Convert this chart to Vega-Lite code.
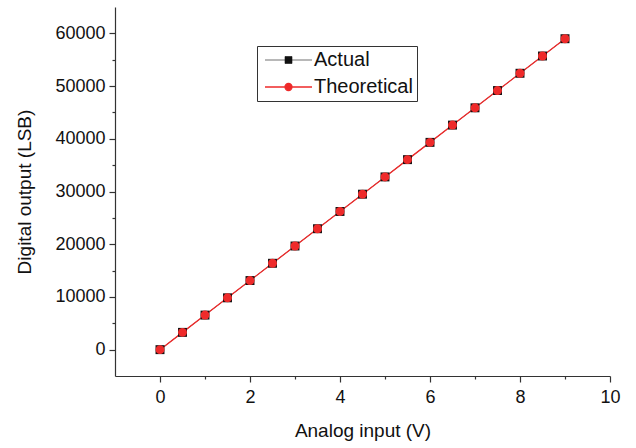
{
  "$schema": "https://vega.github.io/schema/vega-lite/v6.json",
  "width": 495,
  "height": 369,
  "autosize": "none",
  "padding": {"left": 115, "top": 7, "right": 26, "bottom": 72},
  "config": {
    "font": "Liberation Sans",
    "view": {"stroke": null},
    "axis": {
      "grid": false,
      "domainColor": "#333333",
      "tickColor": "#333333",
      "labelColor": "#111111",
      "titleColor": "#111111",
      "labelFont": "Liberation Sans",
      "titleFont": "Liberation Sans",
      "titleFontWeight": "normal",
      "labelFontSize": 18,
      "titleFontSize": 19,
      "domainWidth": 1.2,
      "tickWidth": 1.2
    }
  },
  "data": {
    "values": [
      {"v": 0, "lsb": 0, "series": "Actual"},
      {"v": 0.5, "lsb": 3277, "series": "Actual"},
      {"v": 1, "lsb": 6554, "series": "Actual"},
      {"v": 1.5, "lsb": 9830, "series": "Actual"},
      {"v": 2, "lsb": 13107, "series": "Actual"},
      {"v": 2.5, "lsb": 16384, "series": "Actual"},
      {"v": 3, "lsb": 19661, "series": "Actual"},
      {"v": 3.5, "lsb": 22938, "series": "Actual"},
      {"v": 4, "lsb": 26214, "series": "Actual"},
      {"v": 4.5, "lsb": 29491, "series": "Actual"},
      {"v": 5, "lsb": 32768, "series": "Actual"},
      {"v": 5.5, "lsb": 36045, "series": "Actual"},
      {"v": 6, "lsb": 39322, "series": "Actual"},
      {"v": 6.5, "lsb": 42598, "series": "Actual"},
      {"v": 7, "lsb": 45875, "series": "Actual"},
      {"v": 7.5, "lsb": 49152, "series": "Actual"},
      {"v": 8, "lsb": 52429, "series": "Actual"},
      {"v": 8.5, "lsb": 55706, "series": "Actual"},
      {"v": 9, "lsb": 58982, "series": "Actual"},
      {"v": 0, "lsb": 0, "series": "Theoretical"},
      {"v": 0.5, "lsb": 3277, "series": "Theoretical"},
      {"v": 1, "lsb": 6554, "series": "Theoretical"},
      {"v": 1.5, "lsb": 9830, "series": "Theoretical"},
      {"v": 2, "lsb": 13107, "series": "Theoretical"},
      {"v": 2.5, "lsb": 16384, "series": "Theoretical"},
      {"v": 3, "lsb": 19661, "series": "Theoretical"},
      {"v": 3.5, "lsb": 22938, "series": "Theoretical"},
      {"v": 4, "lsb": 26214, "series": "Theoretical"},
      {"v": 4.5, "lsb": 29491, "series": "Theoretical"},
      {"v": 5, "lsb": 32768, "series": "Theoretical"},
      {"v": 5.5, "lsb": 36045, "series": "Theoretical"},
      {"v": 6, "lsb": 39322, "series": "Theoretical"},
      {"v": 6.5, "lsb": 42598, "series": "Theoretical"},
      {"v": 7, "lsb": 45875, "series": "Theoretical"},
      {"v": 7.5, "lsb": 49152, "series": "Theoretical"},
      {"v": 8, "lsb": 52429, "series": "Theoretical"},
      {"v": 8.5, "lsb": 55706, "series": "Theoretical"},
      {"v": 9, "lsb": 58982, "series": "Theoretical"}
    ]
  },
  "layer": [
    {
      "mark": {"type": "line"},
      "encoding": {
        "x": {
          "field": "v", "type": "quantitative",
          "scale": {"domain": [-1, 10], "nice": false, "zero": false},
          "axis": {"values": [0, 2, 4, 6, 8, 10], "format": "d", "tickSize": 6, "labelPadding": 6, "labelFlush": false, "title": "Analog input (V)", "titlePadding": 15}
        },
        "y": {
          "field": "lsb", "type": "quantitative",
          "scale": {"domain": [-5000, 65000], "nice": false, "zero": false},
          "axis": {"values": [0, 10000, 20000, 30000, 40000, 50000, 60000], "format": "d", "tickSize": 6, "labelPadding": 4, "labelFlush": false, "title": "Digital output (LSB)", "titlePadding": 20}
        },
        "strokeWidth": {
          "field": "series", "type": "nominal",
          "scale": {"domain": ["Actual", "Theoretical"], "range": [0.6, 1.3]},
          "legend": null
        },
        "color": {
          "field": "series", "type": "nominal",
          "scale": {"domain": ["Actual", "Theoretical"], "range": ["#111111", "#ee2a2a"]},
          "legend": {
            "orient": "none",
            "legendX": 142,
            "legendY": 39,
            "title": null,
            "fillColor": "white",
            "strokeColor": "#333333",
            "padding": 4,
            "symbolSize": 100,
            "labelOffset": 33,
            "rowPadding": 7,
            "labelFontSize": 20,
            "labelFont": "Liberation Sans",
            "labelColor": "#111111",
            "symbolStrokeWidth": 1.2,
            "encode": {
              "symbols": {
                "update": {
                  "shape": {"signal": "datum.value === 'Actual' ? 'M-1.2,0H8.2M2.8,-0.7H4.2V0.7H2.8Z' : 'M-1.2,0H8.2M4.2,0A0.7,0.7 0 1,1 2.8,0A0.7,0.7 0 1,1 4.2,0Z'"},
                  "fill": {"signal": "datum.value === 'Actual' ? '#111111' : '#ee2a2a'"},
                  "stroke": {"signal": "datum.value === 'Actual' ? '#111111' : '#ee2a2a'"},
                  "strokeWidth": {"value": 1.2},
                  "opacity": {"value": 1}
                }
              }
            }
          }
        }
      }
    },
    {
      "transform": [{"filter": "datum.series === 'Actual'"}],
      "mark": {"type": "point", "shape": "square", "filled": true, "opacity": 1, "size": 80, "strokeWidth": 0},
      "encoding": {
        "x": {
          "field": "v", "type": "quantitative",
          "axis": {"values": [1, 3, 5, 7, 9], "tickSize": 3, "labels": false, "title": null, "domain": false, "orient": "bottom"}
        },
        "y": {
          "field": "lsb", "type": "quantitative",
          "axis": {"values": [5000, 15000, 25000, 35000, 45000, 55000], "tickSize": 3, "labels": false, "title": null, "domain": false, "orient": "left"}
        },
        "color": {"field": "series", "type": "nominal"}
      }
    },
    {
      "transform": [{"filter": "datum.series === 'Theoretical'"}],
      "mark": {"type": "point", "shape": "circle", "filled": true, "opacity": 1, "size": 80, "strokeWidth": 0},
      "encoding": {
        "x": {"field": "v", "type": "quantitative", "axis": null},
        "y": {"field": "lsb", "type": "quantitative", "axis": null},
        "color": {"field": "series", "type": "nominal"}
      }
    }
  ],
  "resolve": {"axis": {"x": "independent", "y": "independent"}}
}
